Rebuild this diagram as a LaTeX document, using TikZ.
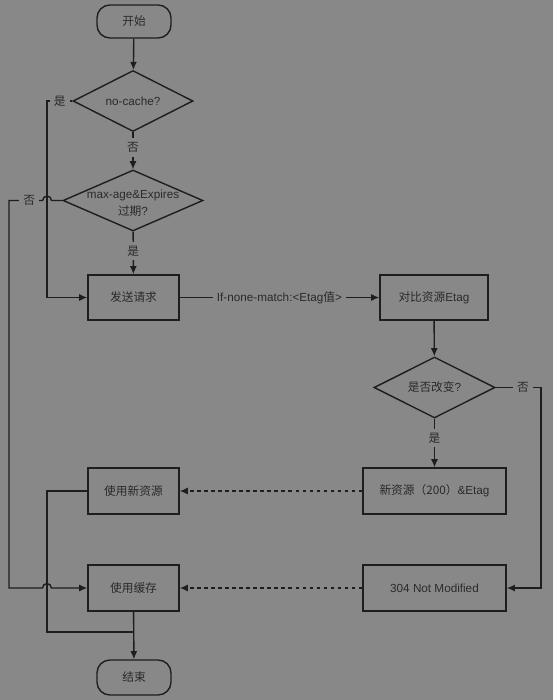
\documentclass[tikz,border=0pt]{standalone}
\usepackage{fontspec}
\setmainfont{Liberation Sans}
\newfontfamily\cjk{Noto Sans CJK SC}
\usetikzlibrary{shapes.geometric,arrows.meta}
\definecolor{bggray}{RGB}{136,136,136}
\definecolor{inkline}{RGB}{30,30,30}
\definecolor{inktext}{RGB}{42,42,42}
\begin{document}
\begin{tikzpicture}[>={Latex[length=7pt,width=6pt]}, x=0.03cm, y=-0.03cm,
	every node/.style={font=\fontsize{10}{12}\selectfont, text=inktext},
	terminal/.style={draw=inkline, line width=1.2pt, rounded corners=11pt, minimum width=2.22cm, minimum height=0.99cm},
	proc/.style={draw=inkline, line width=1.2pt, minimum width=2.73cm, minimum height=1.35cm},
	decision/.style={draw=inkline, line width=1.2pt, diamond, minimum width=3.6cm, minimum height=1.83cm, inner sep=0pt},
	lbl/.style={fill=bggray, inner sep=3.5pt},
	flow/.style={draw=inkline, line width=1.2pt}]
		\fill[bggray] (0,0) rectangle (553,700);
		\useasboundingbox (0,0) rectangle (553,700);
		% left column
		\node[terminal] (start) at (134,21.5) {\cjk 开始};
		\node[decision, label=center:{no-cache?}] (nocache) at (133,101) {};
		\node[decision, minimum width=4.2cm, label={[align=center, yshift=-2.5pt]center:{max-age\&Expires\\[2pt]{\cjk 过期}?}}] (maxage) at (133,200.5) {};
		\node[proc] (send) at (133.5,297.5) {\cjk 发送请求};
		\node[proc, minimum height=1.38cm] (usenew) at (133.5,491) {\cjk 使用新资源};
		\node[proc, minimum height=1.38cm] (usecache) at (133.5,588) {\cjk 使用缓存};
		\node[terminal, minimum height=1.05cm] (finish) at (134,677.5) {\cjk 结束};
		% right column
		\node[proc, minimum width=3.24cm] (compare) at (434,297.5) {{\cjk 对比资源}Etag};
		\node[decision, minimum width=3.63cm, label=center:{{\cjk 是否改变}?}] (changed) at (434.5,387.5) {};
		\node[proc, minimum width=4.29cm, minimum height=1.38cm] (newres) at (434.5,491) {{\cjk 新资源（200）}\&Etag};
		\node[proc, minimum width=4.29cm, minimum height=1.38cm] (notmod) at (434.5,588) {304 Not Modified};
		\coordinate (join) at (134,632);
		
		\draw[flow,->] (start) -- (nocache);
		\draw[flow,->] (nocache) -- node[lbl, pos=0.41]{\cjk 否} (maxage);
		\draw[flow,->] (maxage) -- node[lbl, pos=0.45]{\cjk 是} (send);
		\draw[flow,->] (nocache.west) -- node[lbl]{\cjk 是} (47,101) |- (send.west);
		\draw[flow,->] (maxage.west) -- (51.5,200.5) arc[start angle=0, end angle=180, radius=3.8pt]
			-- node[lbl, pos=0.4]{\cjk 否} (9,200.5) -- (9,588) -- (42.5,588)
			arc[start angle=180, end angle=0, radius=3.8pt] -- (usecache.west);
		\draw[flow,->] (send) -- node[lbl]{If-none-match:<Etag{\cjk 值}>} (compare);
		\draw[flow,->] (compare) -- (changed);
		\draw[flow,->] (changed) -- node[lbl, pos=0.4]{\cjk 是} (newres);
		\draw[flow,->] (changed.east) -- node[lbl, pos=0.6]{\cjk 否} (541,387.5) |- (notmod.east);
		\draw[flow,->,dashed] (newres) -- (usenew);
		\draw[flow,->,dashed] (notmod) -- (usecache);
		\draw[flow] (usenew.west) -- (47,491) |- (join);
		\draw[flow,->] (usecache) -- (finish);
		
		\end{tikzpicture}
\end{document}
